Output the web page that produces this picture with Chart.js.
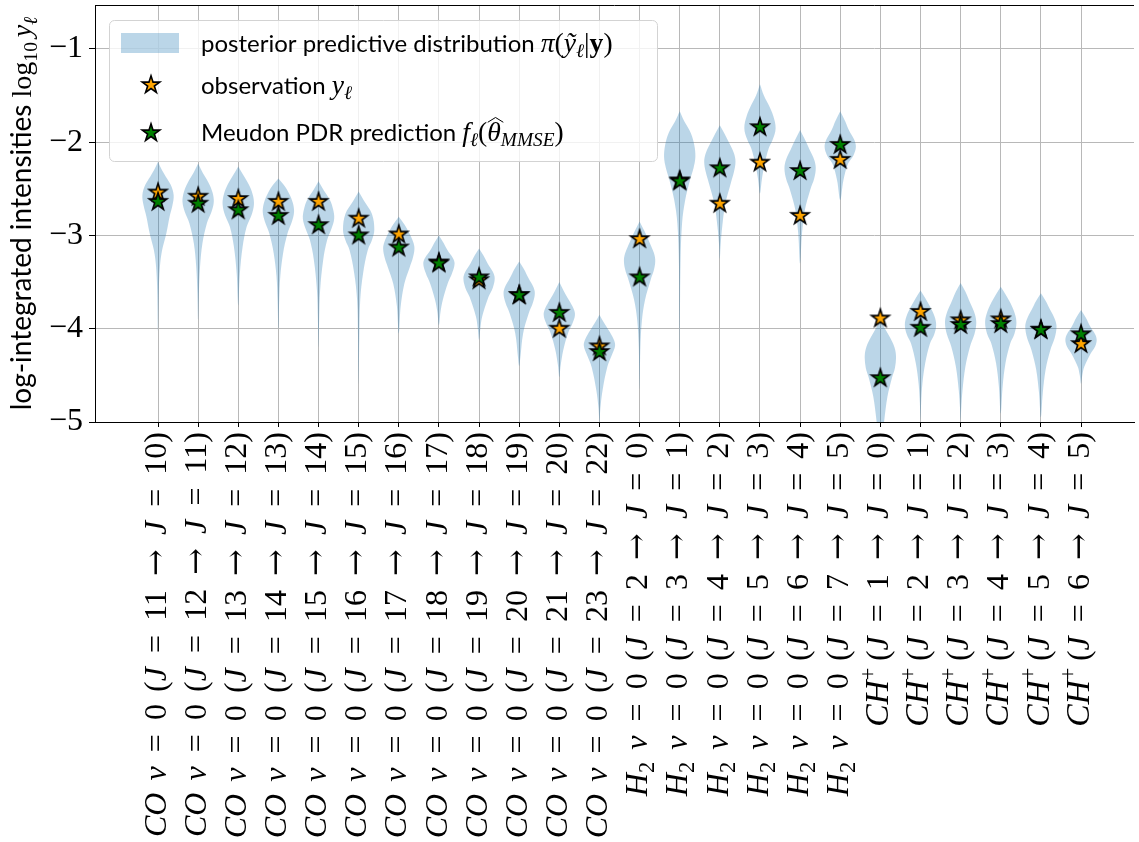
<!DOCTYPE html>
<html>
<head>
<meta charset="utf-8">
<script src="https://cdn.jsdelivr.net/npm/chart.js@4.4.0/dist/chart.umd.min.js"></script>
<style>
  html, body { margin: 0; padding: 0; background: #fff; }
</style>
</head>
<body>
<canvas id="myChart" width="1139" height="842"></canvas>
<script>
// line transitions (upper -> lower J)
const species = ['CO', 'CO', 'CO', 'CO', 'CO', 'CO', 'CO', 'CO', 'CO', 'CO', 'CO', 'CO',
    'H2', 'H2', 'H2', 'H2', 'H2', 'H2',
    'CH+', 'CH+', 'CH+', 'CH+', 'CH+', 'CH+'];
const jUpper = [11, 12, 13, 14, 15, 16, 17, 18, 19, 20, 21, 23, 2, 3, 4, 5, 6, 7, 1, 2, 3, 4, 5, 6];
const jLower = [10, 11, 12, 13, 14, 15, 16, 17, 18, 19, 20, 22, 0, 1, 2, 3, 4, 5, 0, 1, 2, 3, 4, 5];

// log10 intensities
const observed = [-2.54, -2.585, -2.61, -2.64, -2.64, -2.82, -2.99, -3.29, -3.48, -3.64, -4.00, -4.19,
    -3.04, -2.41, -2.66, -2.22, -2.79, -2.19,
    -3.89, -3.82, -3.91, -3.90, -4.01, -4.165];
const predicted = [-2.64, -2.66, -2.73, -2.79, -2.89, -3.00, -3.13, -3.30, -3.45, -3.64, -3.83, -4.25,
    -3.45, -2.42, -2.28, -1.84, -2.31, -2.03,
    -4.53, -3.99, -3.96, -3.95, -4.015, -4.06];

// posterior predictive violins: [value, relative density], top to bottom
const violinProfiles = [
    [[-2.21, 0], [-2.30, 0.25], [-2.37, 0.5], [-2.46, 0.82], [-2.57, 1], [-2.68, 0.92], [-2.80, 0.74], [-2.98, 0.53], [-3.16, 0.26], [-3.34, 0.12], [-3.6, 0.05], [-4.02, 0]],
    [[-2.23, 0], [-2.33, 0.3], [-2.44, 0.68], [-2.54, 0.92], [-2.64, 1], [-2.75, 0.85], [-2.87, 0.56], [-3.09, 0.27], [-3.34, 0.12], [-3.6, 0.05], [-3.9, 0]],
    [[-2.26, 0], [-2.36, 0.35], [-2.48, 0.75], [-2.58, 0.95], [-2.67, 1], [-2.78, 0.85], [-2.91, 0.53], [-3.12, 0.28], [-3.41, 0.1], [-3.75, 0]],
    [[-2.39, 0], [-2.46, 0.35], [-2.55, 0.68], [-2.65, 0.92], [-2.75, 1], [-2.86, 0.85], [-2.98, 0.58], [-3.19, 0.3], [-3.44, 0.12], [-3.7, 0.05], [-4.0, 0]],
    [[-2.42, 0], [-2.52, 0.35], [-2.62, 0.73], [-2.72, 0.93], [-2.82, 1], [-2.93, 0.82], [-3.05, 0.55], [-3.26, 0.3], [-3.59, 0.1], [-3.9, 0.04], [-4.2, 0]],
    [[-2.53, 0], [-2.63, 0.35], [-2.77, 0.85], [-2.94, 1], [-3.05, 0.85], [-3.16, 0.58], [-3.41, 0.28], [-3.69, 0.1], [-4.1, 0.04], [-4.6, 0]],
    [[-2.80, 0], [-2.88, 0.35], [-2.98, 0.68], [-3.07, 0.92], [-3.14, 1], [-3.24, 0.9], [-3.34, 0.7], [-3.52, 0.35], [-3.76, 0.12], [-4.05, 0]],
    [[-3.00, 0], [-3.08, 0.3], [-3.16, 0.55], [-3.24, 0.88], [-3.30, 1], [-3.40, 0.85], [-3.52, 0.55], [-3.69, 0.25], [-3.82, 0.1], [-3.96, 0]],
    [[-3.14, 0], [-3.22, 0.3], [-3.30, 0.55], [-3.39, 0.88], [-3.46, 1], [-3.56, 0.88], [-3.66, 0.6], [-3.87, 0.2], [-4.0, 0.08], [-4.12, 0]],
    [[-3.28, 0], [-3.36, 0.3], [-3.46, 0.6], [-3.55, 0.9], [-3.62, 1], [-3.72, 0.88], [-3.84, 0.6], [-4.05, 0.25], [-4.30, 0.08], [-4.4, 0]],
    [[-3.50, 0], [-3.60, 0.3], [-3.69, 0.6], [-3.78, 0.9], [-3.85, 1], [-3.94, 0.85], [-4.05, 0.55], [-4.23, 0.25], [-4.4, 0.08], [-4.52, 0]],
    [[-3.85, 0], [-3.94, 0.3], [-4.02, 0.6], [-4.11, 0.9], [-4.18, 1], [-4.28, 0.8], [-4.41, 0.5], [-4.66, 0.2], [-4.85, 0.06], [-5.0, 0]],
    [[-2.85, 0], [-2.95, 0.3], [-3.08, 0.65], [-3.18, 0.9], [-3.26, 1], [-3.36, 0.93], [-3.48, 0.7], [-3.69, 0.35], [-3.91, 0.15], [-4.2, 0.05], [-4.65, 0]],
    [[-1.67, 0], [-1.78, 0.3], [-1.90, 0.7], [-2.03, 0.93], [-2.16, 1], [-2.28, 0.88], [-2.41, 0.65], [-2.62, 0.35], [-2.87, 0.15], [-3.3, 0.05], [-4.3, 0]],
    [[-1.82, 0], [-1.91, 0.3], [-2.01, 0.6], [-2.12, 0.9], [-2.21, 1], [-2.32, 0.9], [-2.44, 0.7], [-2.66, 0.35], [-2.91, 0.15], [-3.1, 0.05], [-3.25, 0]],
    [[-1.38, 0], [-1.50, 0.25], [-1.60, 0.55], [-1.72, 0.85], [-1.85, 1], [-1.97, 0.82], [-2.07, 0.55], [-2.23, 0.3], [-2.40, 0.12], [-2.55, 0]],
    [[-1.87, 0], [-1.97, 0.3], [-2.08, 0.6], [-2.19, 0.9], [-2.28, 1], [-2.39, 0.9], [-2.51, 0.65], [-2.73, 0.3], [-2.98, 0.12], [-3.3, 0]],
    [[-1.67, 0], [-1.77, 0.3], [-1.87, 0.55], [-1.97, 0.88], [-2.05, 1], [-2.14, 0.85], [-2.23, 0.5], [-2.41, 0.2], [-2.62, 0]],
    [[-3.91, 0], [-4.00, 0.3], [-4.09, 0.6], [-4.20, 0.9], [-4.30, 1], [-4.42, 0.93], [-4.52, 0.75], [-4.73, 0.45], [-4.98, 0.25], [-5.2, 0.1], [-5.4, 0]],
    [[-3.59, 0], [-3.67, 0.3], [-3.76, 0.6], [-3.87, 0.9], [-3.96, 1], [-4.06, 0.88], [-4.16, 0.6], [-4.37, 0.3], [-4.59, 0.12], [-4.8, 0.04], [-4.98, 0]],
    [[-3.51, 0], [-3.60, 0.3], [-3.72, 0.6], [-3.84, 0.9], [-3.94, 1], [-4.06, 0.88], [-4.19, 0.6], [-4.41, 0.3], [-4.66, 0.12], [-4.85, 0.04], [-4.98, 0]],
    [[-3.55, 0], [-3.63, 0.3], [-3.72, 0.6], [-3.84, 0.9], [-3.94, 1], [-4.05, 0.88], [-4.16, 0.6], [-4.37, 0.3], [-4.62, 0.12], [-4.91, 0]],
    [[-3.62, 0], [-3.70, 0.3], [-3.80, 0.6], [-3.90, 0.9], [-3.98, 1], [-4.10, 0.88], [-4.23, 0.6], [-4.44, 0.3], [-4.69, 0.12], [-4.95, 0]],
    [[-3.80, 0], [-3.88, 0.3], [-3.98, 0.6], [-4.06, 0.9], [-4.12, 1], [-4.19, 0.9], [-4.27, 0.6], [-4.41, 0.2], [-4.5, 0.08], [-4.59, 0]]
];

const yTicks = [-5, -4, -3, -2, -1];

const SERIF = '"Liberation Serif", "DejaVu Serif", serif';
const SANS = 'Lato, "DejaVu Sans", sans-serif';
const VIOLIN_HALF = 0.39;
const violinFill = 'rgba(31, 119, 180, 0.3)';

function makeStar(fill) {
    let c = document.createElement('canvas');
    c.width = 26;
    c.height = 26;
    let g = c.getContext('2d');
    let R = 9.2, r = R * 0.382;
    g.beginPath();
    for (let k = 0; k < 10; k++) {
        let rad = k % 2 ? r : R;
        let a = -Math.PI / 2 + k * Math.PI / 5;
        g.lineTo(13 + rad * Math.cos(a), 13 + rad * Math.sin(a));
    }
    g.closePath();
    g.fillStyle = fill;
    g.fill();
    g.lineWidth = 1.6;
    g.strokeStyle = '#000';
    g.stroke();
    return c;
}
const orangeStar = makeStar('#ffa500');
const greenStar = makeStar('#008000');

// --- little rich text helper (italic / sub / sup pieces) ---
function fontFor(p, size) {
    let s = (p.sub || p.sup) ? size * 0.7 : size;
    if (p.f === 's') return s + 'px ' + SANS;
    let style = p.f === 'i' ? 'italic ' : '';
    let weight = p.f === 'b' ? 'bold ' : '';
    let fam = p.fam || SERIF;
    return style + weight + (s * (p.k || 1)) + 'px ' + fam;
}

function richWidth(ctx, parts, size) {
    let w = 0;
    parts.forEach(p => {
        ctx.font = fontFor(p, size);
        w += (p.pre || 0) * size + ctx.measureText(p.t).width + (p.post || 0) * size;
    });
    return w;
}

function drawRich(ctx, parts, x, y, size) {
    let cx = x;
    parts.forEach(p => {
        cx += (p.pre || 0) * size;
        ctx.font = fontFor(p, size);
        let dy = p.sub ? 0.22 * size : (p.sup ? -0.42 * size : 0);
        let w = ctx.measureText(p.t).width;
        ctx.fillText(p.t, cx, y + dy);
        if (p.hat) {
            ctx.beginPath();
            ctx.moveTo(cx + 0.5, y - 0.78 * size);
            ctx.lineTo(cx + w / 2 + 1.5, y - 0.98 * size);
            ctx.lineTo(cx + w + 2.5, y - 0.78 * size);
            ctx.lineWidth = 1;
            ctx.strokeStyle = '#000';
            ctx.stroke();
        }
        cx += w + (p.post || 0) * size;
    });
}

function rel(sym, fam) {
    return { t: sym, pre: 0.44, post: 0.44, fam: fam };
}

function tickParts(i) {
    let parts = [];
    if (species[i] === 'CO') {
        parts.push({ t: 'CO', f: 'i' }, { t: 'ν', f: 'i', pre: 0.38 }, rel('='), { t: '0' }, { t: '(', pre: 0.38 });
    } else if (species[i] === 'H2') {
        parts.push({ t: 'H', f: 'i' }, { t: '2', sub: true }, { t: 'ν', f: 'i', pre: 0.38 }, rel('='), { t: '0' }, { t: '(', pre: 0.38 });
    } else {
        parts.push({ t: 'CH', f: 'i', k: 1.05 }, { t: '+', sup: true }, { t: '(', pre: 0.2 });
    }
    parts.push({ t: 'J', f: 'i' }, rel('='), { t: String(jUpper[i]) }, rel('→', '"DejaVu Serif", serif'),
        { t: 'J', f: 'i' }, rel('='), { t: String(jLower[i]) }, { t: ')' });
    return parts;
}

const titleParts = [
    { t: 'log-integrated intensities ', f: 's' },
    { t: 'log', f: 'r' }, { t: '10', sub: true }, { t: 'y', f: 'i', pre: 0.17 }, { t: 'ℓ', f: 'i', sub: true }
];

const legendRows = [
    [{ t: 'posterior predictive distribution ', f: 's' }, { t: 'π', f: 'i', k: 1.15 }, { t: '(', k: 1.15 },
        { t: 'ỹ', f: 'i', k: 1.15 }, { t: 'ℓ', f: 'i', sub: true, k: 1.15 }, { t: '|', k: 1.15 }, { t: 'y', f: 'b', k: 1.15 }, { t: ')', k: 1.15 }],
    [{ t: 'observation ', f: 's' }, { t: 'y', f: 'i', k: 1.15 }, { t: 'ℓ', f: 'i', sub: true, k: 1.15 }],
    [{ t: 'Meudon PDR prediction ', f: 's' }, { t: 'f', f: 'i', k: 1.15 }, { t: 'ℓ', f: 'i', sub: true, k: 1.15 },
        { t: '(', k: 1.15 }, { t: 'θ', f: 'i', hat: true, k: 1.15 }, { t: 'MMSE', f: 'i', sub: true, k: 1.15 }, { t: ')', k: 1.15 }]
];

const decor = {
    id: 'decor',
    afterDraw(chart) {
        let ctx = chart.ctx;
        let area = chart.chartArea;
        let xs = chart.scales.x;
        ctx.save();
        ctx.fillStyle = '#000';
        ctx.textAlign = 'left';
        ctx.textBaseline = 'alphabetic';

        // top spine
        ctx.beginPath();
        ctx.moveTo(area.left, area.top + 0.5);
        ctx.lineTo(area.right, area.top + 0.5);
        ctx.strokeStyle = '#000';
        ctx.lineWidth = 1;
        ctx.stroke();

        // rotated category labels
        let labelSize = 32;
        species.forEach((s, i) => {
            let parts = tickParts(i);
            let px = xs.getPixelForValue(i);
            ctx.save();
            ctx.translate(px, area.bottom + 10);
            ctx.rotate(-Math.PI / 2);
            let w = richWidth(ctx, parts, labelSize);
            drawRich(ctx, parts, -w, labelSize * 0.24, labelSize);
            ctx.restore();
        });

        // y axis title
        let ts = 28;
        ctx.save();
        ctx.translate(31, (area.top + area.bottom) / 2);
        ctx.rotate(-Math.PI / 2);
        let tw = richWidth(ctx, titleParts, ts);
        drawRich(ctx, titleParts, -tw / 2, 0, ts);
        ctx.restore();

        // legend box
        let lx = area.left + 14, ly = area.top + 15;
        ctx.beginPath();
        ctx.roundRect(lx + 0.5, ly + 0.5, 548, 141, 5);
        ctx.fillStyle = 'rgba(255,255,255,0.8)';
        ctx.fill();
        ctx.strokeStyle = '#d3d3d3';
        ctx.stroke();

        ctx.fillStyle = violinFill;
        ctx.fillRect(lx + 12, ly + 13, 58, 20);
        ctx.drawImage(orangeStar, lx + 42 - 13, ly + 65 - 13);
        ctx.drawImage(greenStar, lx + 42 - 13, ly + 113 - 13);

        ctx.fillStyle = '#000';
        let ls = 24;
        let baselines = [ly + 32, ly + 74, ly + 121];
        legendRows.forEach((row, k) => drawRich(ctx, row, lx + 92, baselines[k], ls));
        ctx.restore();
    }
};

function violinOutline(i) {
    let prof = violinProfiles[i];
    let right = prof.map(([y, w]) => ({ x: i + w * VIOLIN_HALF, y: y }));
    let left = prof.slice().reverse().map(([y, w]) => ({ x: i - w * VIOLIN_HALF, y: y }));
    return right.concat(left.slice(1));
}

let datasets = violinProfiles.map((p, i) => ({
    type: 'line',
    label: i === 0 ? 'posterior predictive distribution' : '',
    data: violinOutline(i),
    backgroundColor: violinFill,
    borderWidth: 0,
    pointRadius: 0,
    tension: 0.35,
    fill: 'shape',
    order: 2
}));

datasets.push({
    type: 'scatter',
    label: 'observation',
    data: observed.map((v, i) => ({ x: i, y: v })),
    pointStyle: orangeStar,
    order: 1
});
datasets.push({
    type: 'scatter',
    label: 'Meudon PDR prediction',
    data: predicted.map((v, i) => ({ x: i, y: v })),
    pointStyle: greenStar,
    order: 0
});

let myChart = new Chart(document.getElementById('myChart').getContext('2d'), {
    type: 'scatter',
    data: { datasets: datasets },
    options: {
        responsive: false,
        animation: false,
        layout: { padding: { top: 5, right: 0, bottom: 0, left: 0 } },
        plugins: {
            legend: { display: false },
            tooltip: { enabled: false }
        },
        scales: {
            x: {
                type: 'linear',
                min: -1.57,
                max: 24.32,
                afterBuildTicks: s => { s.ticks = species.map((_, i) => ({ value: i })); },
                afterFit: s => {
                    s.height = 420;
                    s.paddingLeft = 0;
                    s.paddingRight = 0;
                },
                ticks: { display: false },
                grid: { color: '#b8b8b8', tickColor: '#000', tickLength: 5 },
                border: { color: '#000', width: 1 }
            },
            y: {
                min: -5,
                max: -0.53,
                afterBuildTicks: s => { s.ticks = yTicks.map(v => ({ value: v })); },
                afterFit: s => {
                    s.width = 95;
                    s.paddingTop = 0;
                    s.paddingBottom = 0;
                },
                ticks: {
                    callback: v => '\u2212' + Math.abs(v),
                    font: { family: SERIF, size: 32 },
                    color: '#000',
                    padding: 6
                },
                grid: { color: '#b8b8b8', tickColor: '#000', tickLength: 6 },
                border: { color: '#000', width: 1 }
            }
        }
    },
    plugins: [decor]
});
</script>
</body>
</html>
